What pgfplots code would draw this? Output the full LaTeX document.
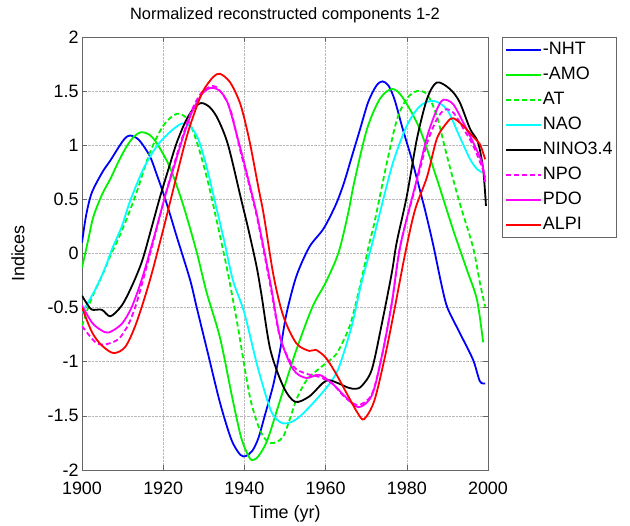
\documentclass[border=0pt]{standalone}
\usepackage{fontspec}
\setmainfont{Liberation Sans}
\usepackage{pgfplots}
\pgfplotsset{compat=1.18}

\definecolor{mblue}{rgb}{0,0,1}
\definecolor{mgreen}{rgb}{0,0.95,0}
\definecolor{mcyan}{rgb}{0,1,1}
\definecolor{mmag}{rgb}{1,0,1}
\definecolor{mred}{rgb}{1,0,0}

\begin{document}
\begin{tikzpicture}
\begin{axis}[
    width=406bp, height=433bp, scale only axis,
    xmin=1900, xmax=2000, ymin=-2, ymax=2,
    xtick={1900,1920,...,2000},
    ytick={-2,-1.5,-1,-0.5,0,0.5,1,1.5,2},
    /pgf/number format/assume math mode=true,
    xticklabel style={/pgf/number format/1000 sep={}, yshift=-8bp},
    tick label style={font=\fontsize{18}{20}\selectfont},
    grid=major,
    grid style={densely dotted, gray!55, line width=0.6bp},
    axis line style={gray!80!black, line width=0.6bp},
    tick style={gray!80!black, line width=0.6bp},
    tick align=inside, major tick length=5bp,
    title={Normalized reconstructed components 1-2},
    title style={font=\fontsize{16.5}{18}\selectfont, at={(axis description cs:0.5,1.036)}, anchor=center},
    xlabel={Time (yr)},
    xlabel style={font=\fontsize{18}{20}\selectfont, at={(axis description cs:0.5,-0.102)}, anchor=center},
    ylabel={Indices},
    ylabel style={font=\fontsize{18}{20}\selectfont, at={(axis description cs:-0.158,0.5)}, anchor=center},
    every axis plot/.append style={line width=1.8bp, smooth, tension=0.5},
    legend style={at={(1.034,1)}, anchor=north west, draw=gray!80!black, line width=0.6bp,
        font=\fontsize{18}{20}\selectfont, inner xsep=3bp, inner ysep=3bp,
        nodes={inner sep=1bp, text height=13bp, text depth=4bp}, row sep=6bp},
    legend cell align=left,
    legend image code/.code={\draw[#1, line width=1.8bp] (0bp,0bp) -- (35bp,0bp);},
]
% -NHT
\addplot[mblue] coordinates {
(1900,0.10)(1901,0.35)(1902.4,0.56)(1905,0.75)(1907,0.86)(1909,0.98)(1910.5,1.06)(1911.8,1.09)
(1914,1.05)(1916.7,0.9)(1918.5,0.72)(1920,0.56)(1921.7,0.36)(1923.3,0.16)(1926.6,-0.24)
(1928.2,-0.49)(1931,-0.92)(1934,-1.38)(1936.8,-1.72)(1939,-1.86)(1940.4,-1.87)(1942,-1.82)
(1943.5,-1.7)(1945,-1.5)(1947.2,-1.2)(1949,-0.85)(1950.4,-0.55)(1952.8,-0.21)(1956,0.06)
(1959.5,0.23)(1962.5,0.45)(1964.5,0.65)(1966.5,0.9)(1968.5,1.15)(1970.5,1.4)(1972.5,1.55)
(1974,1.59)(1975.5,1.55)(1977,1.42)(1979,1.15)(1981,0.9)(1982.5,0.69)(1984.5,0.4)(1986.5,0.08)
(1988.5,-0.28)(1990,-0.5)(1993,-0.73)(1996.3,-0.98)(1998,-1.18)(1999.3,-1.2)
};
% -AMO
\addplot[mgreen] coordinates {
(1900,-0.13)(1901.5,0.12)(1902.8,0.34)(1905,0.55)(1907,0.69)(1909,0.85)(1911,0.99)(1912.8,1.08)
(1914.5,1.12)(1916.5,1.1)(1918.4,1.02)(1921.6,0.8)(1924.9,0.45)(1928.2,0.02)(1930.7,-0.36)
(1934,-0.78)(1937,-1.33)(1939.2,-1.7)(1941,-1.87)(1942,-1.91)(1943.5,-1.87)(1945.6,-1.73)
(1948,-1.45)(1949.6,-1.26)(1952.8,-0.89)(1956.8,-0.49)(1960,-0.27)(1963.2,0.01)(1965.6,0.38)
(1967,0.65)(1970.2,1.15)(1973.4,1.43)(1976.4,1.52)(1979,1.44)(1983.2,1.15)(1987.4,0.69)
(1991.4,0.22)(1994.8,-0.15)(1997.3,-0.43)(1998.8,-0.82)
};
% AT
\addplot[mgreen, dash pattern=on 5bp off 3bp] coordinates {
(1900,-0.67)(1901.5,-0.5)(1903,-0.36)(1905,-0.2)(1907,-0.02)(1909,0.14)(1911,0.32)(1913.4,0.56)
(1916.7,0.93)(1920,1.18)(1923.3,1.29)(1926,1.24)(1928.2,1.04)(1930.7,0.71)(1933.2,0.3)
(1935.6,-0.12)(1936.8,-0.35)(1938.5,-0.7)(1940,-1.04)(1941.5,-1.35)(1943.2,-1.57)(1944.8,-1.7)
(1946.4,-1.75)(1948,-1.74)(1949.6,-1.69)(1951,-1.55)(1952.8,-1.35)(1954.5,-1.22)(1956,-1.14)
(1959.2,-1.04)(1962.4,-0.94)(1964.2,-0.82)(1966.2,-0.64)(1968.6,-0.28)(1970.8,0.1)(1972,0.28)
(1975.1,0.84)(1977.6,1.24)(1980,1.43)(1982.5,1.5)(1985,1.47)(1987.4,1.27)(1989.9,0.9)
(1993,0.47)(1996.3,0.06)(1998,-0.27)(1999.3,-0.49)
};
% NAO
\addplot[mcyan] coordinates {
(1900,-0.55)(1903.3,-0.33)(1905.5,-0.15)(1907.5,0.05)(1909.8,0.25)(1911.8,0.48)(1915.1,0.78)
(1918.4,0.99)(1921.6,1.12)(1924.5,1.2)(1926.5,1.18)(1928.6,1.06)(1930.7,0.8)(1932.8,0.47)
(1935,0.12)(1937.2,-0.25)(1940,-0.55)(1943.2,-1.04)(1946.4,-1.44)(1948.5,-1.55)(1950,-1.57)
(1952,-1.55)(1954.4,-1.48)(1958.4,-1.32)(1961.6,-1.17)(1963.5,-1.03)(1966.5,-0.66)
(1968.9,-0.26)(1971.4,0.08)(1973.4,0.38)(1976.6,0.84)(1980,1.18)(1983.2,1.36)(1986.5,1.41)
(1989.9,1.33)(1993,1.08)(1995.6,0.87)(1997.3,0.78)(1998.5,0.75)
};
% NINO3.4
\addplot[black] coordinates {
(1900,-0.39)(1901.5,-0.48)(1902.5,-0.52)(1904.9,-0.52)(1907,-0.58)(1909.8,-0.48)(1912.3,-0.3)
(1914.8,-0.07)(1917,0.22)(1919.2,0.52)(1921.3,0.78)(1923.3,1.02)(1925.5,1.22)(1927.5,1.34)
(1929.4,1.39)(1931.5,1.35)(1933.5,1.24)(1936,1.0)(1939.2,0.5)(1941,0.22)(1943,-0.12)
(1944.2,-0.38)(1946.4,-0.89)(1949.6,-1.23)(1952.5,-1.37)(1956,-1.32)(1959.2,-1.2)(1960.8,-1.17)
(1963.2,-1.2)(1965.6,-1.24)(1967.5,-1.25)(1969,-1.22)(1971.4,-1.07)(1973.9,-0.64)(1976.3,-0.18)
(1977.5,0.1)(1980,0.53)(1982.5,1.06)(1985,1.43)(1987.4,1.58)(1990.6,1.52)(1993,1.4)
(1995.6,1.15)(1997.5,1.03)(1998.8,0.78)(1999.5,0.44)
};
% NPO
\addplot[mmag, dash pattern=on 5bp off 3bp] coordinates {
(1900,-0.67)(1903.3,-0.82)(1905.7,-0.84)(1909,-0.79)(1911.5,-0.65)(1913.5,-0.45)(1915.5,-0.18)
(1917.5,0.1)(1920.4,0.52)(1922.5,0.8)(1924.5,1.05)(1927,1.32)(1929.3,1.48)(1931.5,1.54)
(1933,1.54)(1935,1.45)(1936.8,1.3)(1938.8,0.98)(1941,0.66)(1943.3,0.3)(1946.4,-0.3)
(1948.8,-0.78)(1952,-1.04)(1955.2,-1.11)(1958.4,-1.14)(1961.6,-1.2)(1964.8,-1.33)(1968,-1.4)
(1971.4,-1.3)(1973.9,-0.94)(1976.3,-0.46)(1978.4,0.07)(1982.5,0.67)(1985,1.02)(1987.4,1.24)
(1989.4,1.33)(1991.5,1.3)(1994,1.15)(1996.3,1.0)(1998.5,0.8)(1999.3,0.7)
};
% PDO
\addplot[mmag] coordinates {
(1900,-0.48)(1902.5,-0.64)(1904.8,-0.71)(1906.6,-0.73)(1909.8,-0.65)(1912.3,-0.49)(1914.8,-0.23)
(1917.5,0.12)(1920.4,0.52)(1922.5,0.78)(1924.5,1.03)(1927,1.3)(1929.3,1.46)(1931,1.52)
(1932.3,1.53)(1934,1.5)(1936,1.38)(1938.8,1.0)(1941,0.68)(1943.3,0.32)(1946.4,-0.27)
(1948.8,-0.77)(1952,-1.07)(1955.2,-1.15)(1958.4,-1.12)(1961.6,-1.2)(1964.8,-1.32)(1968.1,-1.42)
(1971.4,-1.31)(1973.9,-0.94)(1976.3,-0.46)(1978.4,0.07)(1982.5,0.69)(1985,1.08)(1987.4,1.33)
(1989,1.42)(1991.4,1.38)(1993.9,1.21)(1996.3,1.03)(1998.5,0.84)(1999.3,0.66)
};
% ALPI
\addplot[mred] coordinates {
(1900,-0.5)(1902.5,-0.73)(1904.9,-0.85)(1907.8,-0.92)(1910.7,-0.86)(1913.4,-0.64)(1916.7,-0.25)
(1920,0.22)(1922,0.52)(1925.5,1.04)(1927.7,1.3)(1929.8,1.5)(1932.3,1.63)(1934,1.66)(1936.5,1.58)
(1939,1.38)(1941.2,1.05)(1943.5,0.6)(1944.8,0.35)(1947.2,-0.21)(1949.6,-0.58)(1952.8,-0.83)
(1956,-0.9)(1957.6,-0.89)(1960,-0.96)(1962.4,-1.1)(1965.6,-1.32)(1968,-1.48)(1969.5,-1.53)
(1972,-1.36)(1974.7,-0.94)(1977.1,-0.49)(1979.6,0.0)(1982,0.4)(1985,0.71)(1987.4,1.06)
(1989.9,1.21)(1991.4,1.25)(1993.9,1.18)(1996.3,1.08)(1998,1.01)(1999.3,0.87)
};
\legend{-NHT, -AMO, AT, NAO, NINO3.4, NPO, PDO, ALPI}
\end{axis}
\pgfresetboundingbox
\useasboundingbox (-82bp,-56bp) rectangle (548bp,470bp);
\end{tikzpicture}
\end{document}
